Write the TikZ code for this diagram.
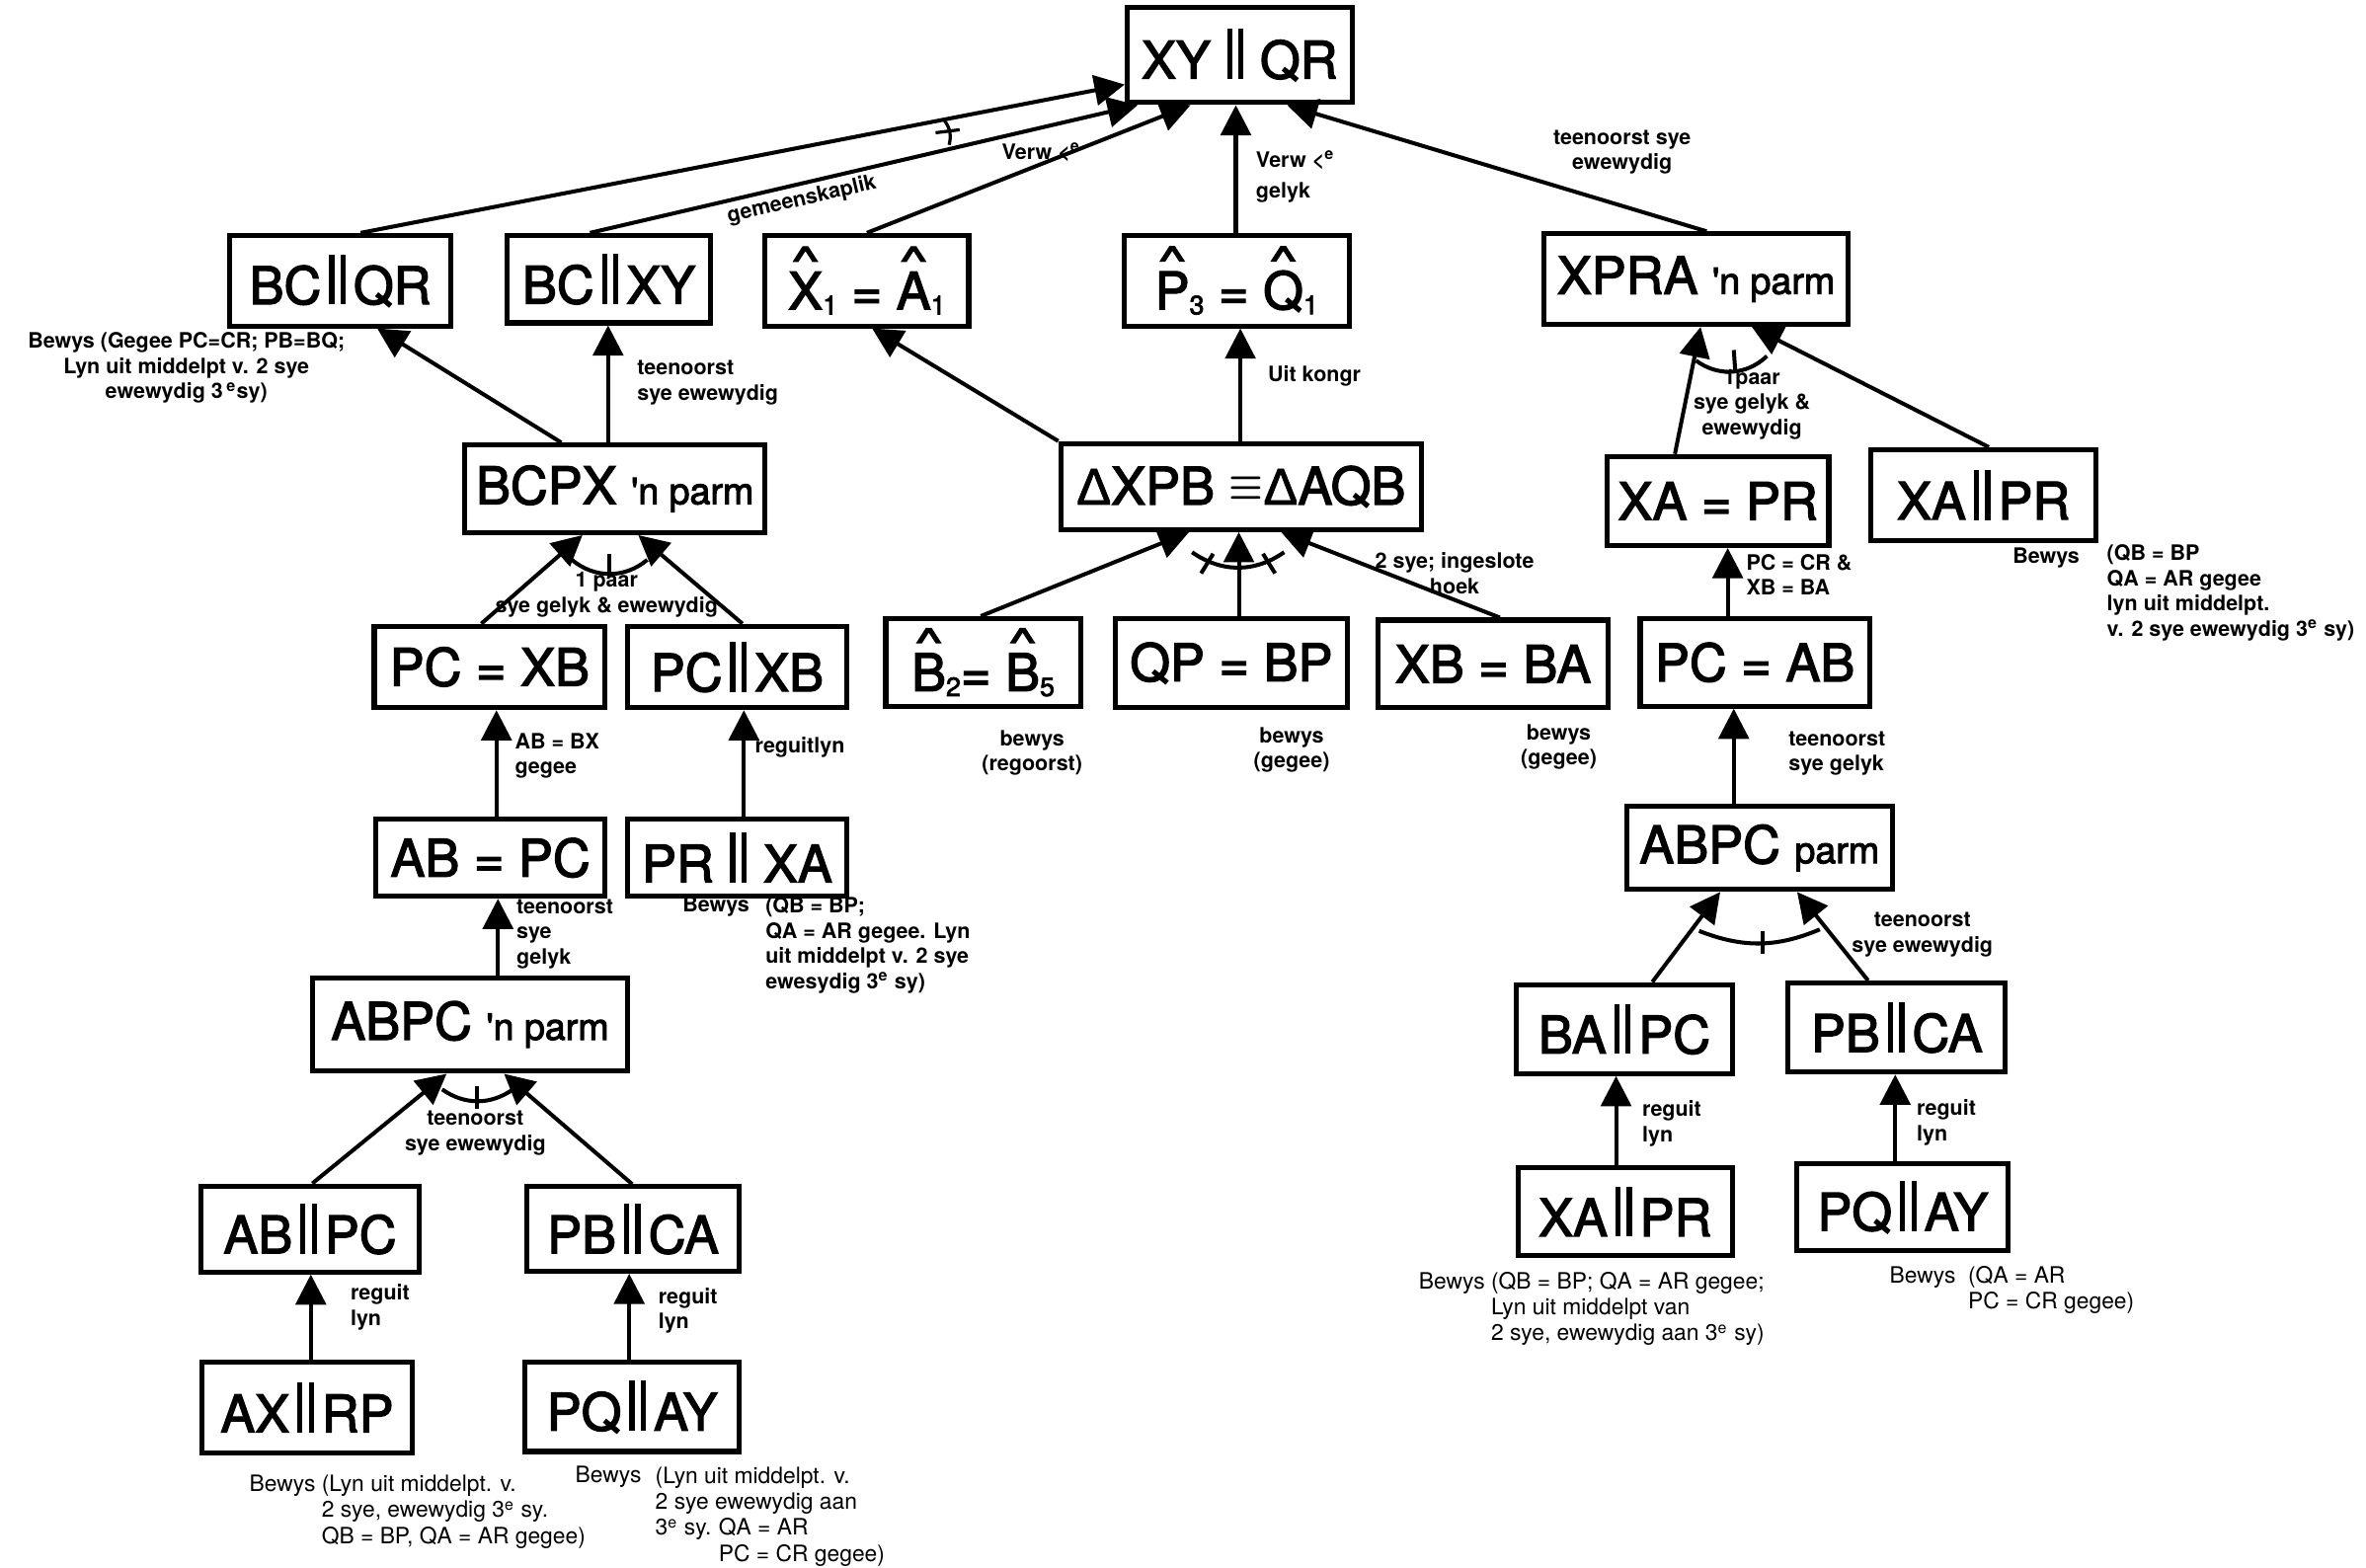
\documentclass[tikz,border=0pt]{standalone}
\usepackage{fontspec}
\setmainfont{TeX Gyre Heros}
\newfontfamily\stmtfamily{TeX Gyre Heros}[FakeBold=2.5]
\newfontfamily\deltafont{Liberation Sans}[FakeBold=1.5]
\usepackage{graphicx}
\usetikzlibrary{arrows.meta}
% parallel sign, hat, index and congruence sign for the statements
\newcommand{\pll}{\kern0.15em\rule[-0.01em]{2pt}{0.97em}\kern2.3pt\rule[-0.01em]{2pt}{0.97em}\kern0.15em}
\newcommand{\hatl}[1]{\leavevmode\setbox0\hbox{#1}\hbox to\wd0{\hss\raisebox{0.68em}{\scalebox{1.2}[0.75]{\textasciicircum}}\hss}\kern-\wd0\box0}
\newcommand{\idx}[1]{\raisebox{-0.1em}{\fontsize{10}{10}\selectfont #1}}
\newcommand{\congsign}{\raisebox{0.1em}{\scalebox{0.7}[0.8]{\boldmath$\equiv$}}}
\newcommand{\tri}{{\deltafont Δ}}
\newcommand{\parmtext}[1]{{\fontsize{14}{16}\selectfont #1}}
\tikzset{
	stmtbox/.style={draw, line width=1.9pt, inner sep=1pt, font=\stmtfamily\fontsize{19.5}{22}\selectfont}
}
\tikzset{
	reasontext/.style={font=\fontsize{8}{9.5}\selectfont\bfseries, inner sep=0pt, align=left}
}
\tikzset{
	prooftext/.style={font=\fontsize{8.5}{9.8}\selectfont, inner sep=0pt, align=left}
}
\begin{document}
\begin{tikzpicture}[x=0.2mm, y=-0.2mm, >={Triangle[length=4mm,width=4mm]}, conn/.style={line width=1.5pt, ->}]
      \useasboundingbox (0,0) rectangle (1568,1039);
      % statements
      \node[stmtbox, minimum width=29.8mm, minimum height=12.6mm] (xyqr) at (821.5,36.5) {XY\,\pll\,QR};
      \node[stmtbox, minimum width=29.4mm, minimum height=12mm] (bcqr) at (225.5,186) {BC\pll QR};
      \node[stmtbox, minimum width=27mm, minimum height=11.6mm] (bcxy) at (403.5,185) {BC\pll XY};
      \node[stmtbox, minimum width=27mm, minimum height=12mm] (xahat) at (574.5,186) {\hatl{X}\idx{1} = \hatl{A}\idx{1}};
      \node[stmtbox, minimum width=29.8mm, minimum height=12mm] (pqhat) at (819.5,186) {\hatl{P}\idx{3} = \hatl{Q}\idx{1}};
      \node[stmtbox, minimum width=40.4mm, minimum height=12mm] (xpra) at (1124,185) {XPRA \parmtext{\textquotesingle n parm}};
      \node[stmtbox, minimum width=39.8mm, minimum height=11.6mm] (bcpx) at (407.5,324) {BCPX \parmtext{\textquotesingle n parm}};
      \node[stmtbox, minimum width=47.8mm, minimum height=11.4mm] (dxpb) at (822.5,322.5) {\tri XPB \congsign\tri AQB};
      \node[stmtbox, minimum width=29.4mm, minimum height=11.8mm] (xaeqpr) at (1138.5,332) {XA = PR};
      \node[stmtbox, minimum width=29.8mm, minimum height=12mm] (xaprR) at (1314.5,328) {XA\pll PR};
      \node[stmtbox, minimum width=30.6mm, minimum height=10.8mm] (pcxb) at (324.5,442) {PC = XB};
      \node[stmtbox, minimum width=29mm, minimum height=10.8mm] (pcpxb) at (488.5,442) {PC\pll XB};
      \node[stmtbox, minimum width=25.8mm, minimum height=11.6mm] (bhat) at (651.5,439) {\hatl{B}\idx{2}= \hatl{B}\idx{5}};
      \node[stmtbox, minimum width=30.8mm, minimum height=11.8mm] (qpbp) at (816,439.5) {QP = BP};
      \node[stmtbox, minimum width=30.6mm, minimum height=11.6mm] (xbba) at (989.5,440) {XB = BA};
      \node[stmtbox, minimum width=30.4mm, minimum height=11.6mm] (pcab) at (1163,439) {PC = AB};
      \node[stmtbox, minimum width=30.4mm, minimum height=10.2mm] (abpc) at (325,568.5) {AB = PC};
      \node[stmtbox, minimum width=29mm, minimum height=10.2mm] (prxa) at (488.5,568.5) {PR\,\pll\,XA};
      \node[stmtbox, minimum width=35.2mm, minimum height=11mm] (abpcR) at (1166,562) {ABPC \parmtext{parm}};
      \node[stmtbox, minimum width=41.8mm, minimum height=12.4mm] (abpcL) at (311.5,679) {ABPC \parmtext{\textquotesingle n parm}};
      \node[stmtbox, minimum width=28.6mm, minimum height=11.8mm] (bapc) at (1076.5,682) {BA\pll PC};
      \node[stmtbox, minimum width=28.8mm, minimum height=11.8mm] (pbcaR) at (1257,681) {PB\pll CA};
      \node[stmtbox, minimum width=29mm, minimum height=11.4mm] (abppc) at (205.5,814.5) {AB\pll PC};
      \node[stmtbox, minimum width=28.2mm, minimum height=11.2mm] (pbcaL) at (419.5,814.5) {PB\pll CA};
      \node[stmtbox, minimum width=28.4mm, minimum height=11.6mm] (xaprB) at (1077,803) {XA\pll PR};
      \node[stmtbox, minimum width=28mm, minimum height=11.6mm] (pqayR) at (1261,800) {PQ\pll AY};
      \node[stmtbox, minimum width=27.8mm, minimum height=12mm] (axrp) at (203.5,933) {AX\pll RP};
      \node[stmtbox, minimum width=28.4mm, minimum height=11.8mm] (pqayL) at (419,932.5) {PQ\pll AY};

      % implications into the top statement
      \draw[conn] (bcqr.north -| 239,0) -- (xyqr.west |- 0,56);
      \draw[conn] (bcxy.north -| 391,0) -- node[reasontext, sloped, below=1.5pt, pos=0.38] {gemeenskaplik} (xyqr.south -| 754,0);
      \draw[conn] (xahat.north) -- (xyqr.south -| 789,0);
      \draw[conn] (pqhat.north -| 819,0) -- (xyqr.south -| 819,0);
      \draw[conn] (xpra.north -| 1131,0) -- (xyqr.south -| 853,0);
      % second level
      \draw[conn] (bcpx.north -| 372,0) -- (bcqr.south -| 250,0);
      \draw[conn] (bcpx.north -| 403,0) -- (bcxy.south -| 403,0);
      \draw[conn] (dxpb.north west) -- (xahat.south -| 578,0);
      \draw[conn] (dxpb.north -| 822,0) -- (pqhat.south -| 822,0);
      \draw[conn] (xaeqpr.north -| 1110,0) -- (xpra.south -| 1127,0);
      \draw[conn] (xaprR.north -| 1318,0) -- (xpra.south -| 1161,0);
      % third level
      \draw[conn] (pcxb.north -| 319,0) -- (bcpx.south -| 386,0);
      \draw[conn] (pcpxb.north -| 492,0) -- (bcpx.south -| 423,0);
      \draw[conn] (bhat.north -| 650,0) -- (dxpb.south -| 788,0);
      \draw[conn] (qpbp.north -| 821,0) -- (dxpb.south -| 821,0);
      \draw[conn] (xbba.north -| 994,0) -- (dxpb.south -| 849,0);
      \draw[conn] (pcab.north -| 1145,0) -- (xaeqpr.south -| 1145,0);
      % lower levels
      \draw[conn] (abpc.north -| 329,0) -- (pcxb.south -| 329,0);
      \draw[conn] (prxa.north -| 493,0) -- (pcpxb.south -| 493,0);
      \draw[conn] (abpcR.north -| 1149,0) -- (pcab.south -| 1149,0);
      \draw[conn] (abpcL.north -| 330,0) -- (abpc.south -| 330,0);
      \draw[conn] (bapc.north -| 1095,0) -- (abpcR.south -| 1140,0);
      \draw[conn] (pbcaR.north -| 1238,0) -- (abpcR.south -| 1191,0);
      \draw[conn] (abppc.north -| 207,0) -- (abpcL.south -| 296,0);
      \draw[conn] (pbcaL.north -| 419,0) -- (abpcL.south -| 334,0);
      \draw[conn] (axrp.north -| 206,0) -- (abppc.south -| 206,0);
      \draw[conn] (pqayL.north -| 417,0) -- (pbcaL.south -| 417,0);
      \draw[conn] (xaprB.north -| 1071,0) -- (bapc.south -| 1071,0);
      \draw[conn] (pqayR.north -| 1256,0) -- (pbcaR.south -| 1256,0);

      % angle marks between converging arrows
      \draw[line width=1.5pt] (379,371) to[bend right=40] (429,371);
      \draw[line width=1.5pt] (404,367) -- (404,382);
      \draw[line width=1.5pt] (790,366) to[bend right=35] (851,366);
      \draw[line width=1.5pt] (796,380) -- (804,367);
      \draw[line width=1.5pt] (845,380) -- (837,367);
      \draw[line width=1.5pt] (1124,239) to[bend right=40] (1171,236);
      \draw[line width=1.5pt] (1149,232) -- (1150,246);
      \draw[line width=1.5pt] (1126,617) to[bend right=22] (1206,616);
      \draw[line width=1.5pt] (1168,617) -- (1168,632);
      \draw[line width=1.5pt] (293,722) to[bend right=35] (340,722);
      \draw[line width=1.5pt] (316,720) -- (316,735);
      \draw[line width=1.2pt] (626,80) to[bend left=25] (629,96);
      \draw[line width=1.2pt] (620,88) -- (636,86);

      % reasons
      \node[reasontext] (whyX) at (690,101) {Verw <\textsuperscript{e}};
      \node[reasontext, anchor=west] (whyP) at (832,117) {Verw <\textsuperscript{e}\\[2pt]gelyk};
      \node[reasontext, align=center] (whyXPRA) at (1075,101) {teenoorst sye\\ewewydig};
      \node[reasontext, anchor=west] (whyBCXY) at (422,253.5) {teenoorst\\sye ewewydig};
      \node[reasontext, anchor=west] (whyKongr) at (840,249) {Uit kongr};
      \node[reasontext, align=center] (whyParmR) at (1161,268) {1paar\\sye gelyk \&\\ewewydig};
      \node[reasontext, align=center] (proofBCQR) at (123.5,244) {Bewys (Gegee PC=CR; PB=BQ;\\Lyn uit middelpt v. 2 sye\\ewewydig 3\,\textsuperscript{e}sy)};
      \node[reasontext, align=center] (whyParmL) at (402,394) {1 paar\\sye gelyk \& ewewydig};
      \node[reasontext, align=center] (whyKongrB) at (964,380) {2 sye; ingeslote\\hoek};
      \node[reasontext, anchor=west] (whyXAPR) at (1157,381) {PC = CR \&\\XB = BA};
      \node[reasontext] (bewysXAPR) at (1356,370) {Bewys};
      \node[reasontext, anchor=west] (proofXAPR) at (1396,393) {(QB = BP\\QA = AR gegee\\lyn uit middelpt.\\v. 2 sye ewewydig 3\textsuperscript{e} sy)};
      \node[reasontext, anchor=west] (whyPCXB) at (341,501) {AB = BX\\gegee};
      \node[reasontext, anchor=west] (whyPCpXB) at (500,495) {reguitlyn};
      \node[reasontext, align=center] (proofB) at (684,499) {bewys\\(regoorst)};
      \node[reasontext, align=center] (proofQP) at (856,497) {bewys\\(gegee)};
      \node[reasontext, align=center] (proofXB) at (1033,495) {bewys\\(gegee)};
      \node[reasontext, anchor=west] (whyPCAB) at (1185,499.5) {teenoorst\\sye gelyk};
      \node[reasontext, anchor=west] (whyABPC) at (342,619) {teenoorst\\sye\\gelyk};
      \node[reasontext] (bewysPRXA) at (474.5,601) {Bewys};
      \node[reasontext, anchor=west] (proofPRXA) at (507,626.5) {(QB = BP;\\QA = AR gegee. Lyn\\uit middelpt v. 2 sye\\ewesydig 3\textsuperscript{e} sy)};
      \node[reasontext, align=center] (whyABPCR) at (1274,619.5) {teenoorst\\sye ewewydig};
      \node[reasontext, align=center] (whyABPCL) at (315,751) {teenoorst\\sye ewewydig};
      \node[reasontext, anchor=west] (whyAB) at (232,866.5) {reguit\\lyn};
      \node[reasontext, anchor=west] (whyPBL) at (436,868.5) {reguit\\lyn};
      \node[reasontext, anchor=west] (whyBA) at (1088,744.5) {reguit\\lyn};
      \node[reasontext, anchor=west] (whyPBR) at (1270,744) {reguit\\lyn};
      % proofs under the bottom statements
      \node[prooftext, anchor=west] (proofAX) at (165,1002) {Bewys (Lyn uit middelpt. v.\\\phantom{Bewys }2 sye, ewewydig 3\textsuperscript{e} sy.\\\phantom{Bewys }QB = BP, QA = AR gegee)};
      \node[prooftext, anchor=west] (bewysPQL) at (381,979) {Bewys};
      \node[prooftext, anchor=west] (proofPQL) at (434,1005) {(Lyn uit middelpt. v.\\2 sye ewewydig aan\\\makebox[8.4mm][l]{3\textsuperscript{e} sy.}QA = AR\\\hspace*{8.4mm}PC = CR gegee)};
      \node[prooftext, anchor=west] (proofXAB) at (940,867.5) {Bewys (QB = BP; QA = AR gegee;\\\phantom{Bewys }Lyn uit middelpt van\\\phantom{Bewys }2 sye, ewewydig aan 3\textsuperscript{e} sy)};
      \node[prooftext, anchor=west] (proofPQR) at (1252,855) {Bewys\ \ (QA = AR\\\phantom{Bewys\ \ }PC = CR gegee)};
\end{tikzpicture}
\end{document}
